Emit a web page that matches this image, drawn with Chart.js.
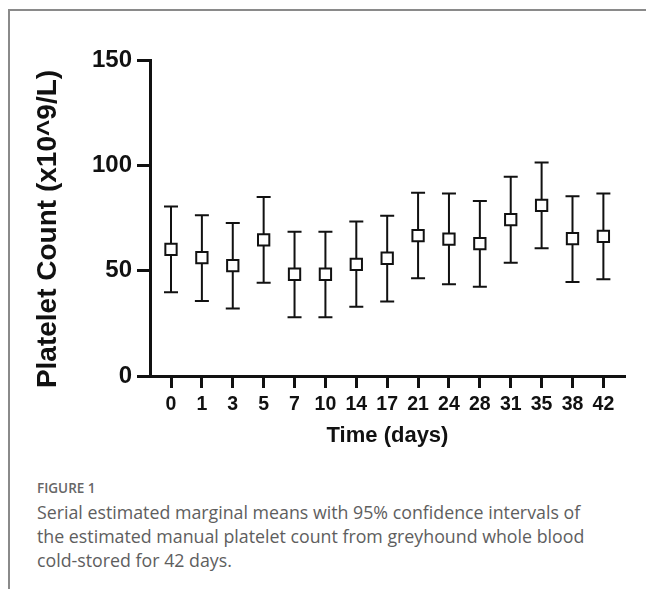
<!DOCTYPE html>
<html>
<head>
<meta charset="utf-8">
<script src="https://cdn.jsdelivr.net/npm/chart.js@4"></script>
<style>
    body { margin: 0; background: #fff; }
    #wrap { position: relative; width: 646px; height: 589px; overflow: hidden; }
    #frame-top { position: absolute; left: 8px; top: 9px; width: 638px; height: 2px; background: #8a8a8a; }
    #frame-left { position: absolute; left: 8px; top: 9px; width: 2px; height: 580px; background: #8a8a8a; }
    #chart-box { position: absolute; left: 0; top: 0; width: 646px; height: 460px; }
    #fig-label { position: absolute; left: 37px; top: 480px; font: 600 13.5px "Open Sans", sans-serif; line-height: 16px; color: #666; }
    #caption { position: absolute; left: 37px; top: 500px; width: 605px; font: 400 17.8px "Open Sans", sans-serif; line-height: 24px; color: #5e5e5e; white-space: nowrap; }
</style>
</head>
<body>
<div id="wrap">
    <div id="frame-top"></div>
    <div id="frame-left"></div>
    <div id="chart-box"><canvas id="platelet-chart" width="646" height="460"></canvas></div>
    <div id="fig-label">FIGURE 1</div>
    <div id="caption">Serial estimated marginal means with 95% confidence intervals of<br>the estimated manual platelet count from greyhound whole blood<br>cold-stored for 42 days.</div>
</div>
<script>
// Storage day labels (x axis categories)
const days = ['0', '1', '3', '5', '7', '10', '14', '17', '21', '24', '28', '31', '35', '38', '42'];
// Estimated marginal means (x10^9/L)
const means = [60.1, 56.2, 52.4, 64.6, 48.3, 48.3, 53.0, 55.9, 66.6, 65.0, 62.8, 74.2, 81.0, 65.2, 66.3];
// 95% CI bounds
const upperCI = [80.4, 76.3, 72.6, 85.0, 68.5, 68.5, 73.3, 76.1, 87.0, 86.6, 83.1, 94.6, 101.3, 85.3, 86.6];
const lowerCI = [39.7, 35.6, 32.0, 44.3, 27.9, 27.9, 32.9, 35.4, 46.4, 43.5, 42.4, 53.8, 60.6, 44.6, 45.9];
const yTicks = [0, 50, 100, 150];

const INK = '#111';
const FONT = '"Liberation Sans", Arial, sans-serif';

// Draw the CI whiskers through the scales, under the square markers
const errorBarPlugin = {
    id: 'errorBars',
    beforeDatasetsDraw(chart) {
        const { ctx, scales: { x, y } } = chart;
        const capHalf = 7;
        ctx.save();
        ctx.strokeStyle = INK;
        ctx.lineWidth = 2;
        days.forEach((d, i) => {
            const px = x.getPixelForValue(i);
            const top = y.getPixelForValue(upperCI[i]);
            const bot = y.getPixelForValue(lowerCI[i]);
            ctx.beginPath();
            ctx.moveTo(px, top);
            ctx.lineTo(px, bot);
            ctx.moveTo(px - capHalf, top);
            ctx.lineTo(px + capHalf, top);
            ctx.moveTo(px - capHalf, bot);
            ctx.lineTo(px + capHalf, bot);
            ctx.stroke();
        });
        ctx.restore();
    }
};

// Rotated y title, placed a little below the axis middle like the original
const yTitlePlugin = {
    id: 'yTitle',
    afterDraw(chart) {
        const { ctx, chartArea } = chart;
        ctx.save();
        ctx.translate(48, (chartArea.top + chartArea.bottom) / 2 + 11);
        ctx.rotate(-Math.PI / 2);
        ctx.font = 'bold 28px ' + FONT;
        ctx.fillStyle = INK;
        ctx.textAlign = 'center';
        ctx.textBaseline = 'middle';
        ctx.fillText('Platelet Count (x10^9/L)', 0, 0);
        ctx.restore();
    }
};

const ctx = document.getElementById('platelet-chart').getContext('2d');
new Chart(ctx, {
    type: 'scatter',
    data: {
        datasets: [{
            data: means.map((m, i) => ({ x: i, y: m })),
            pointStyle: 'rect',
            pointRadius: 8,
            pointHoverRadius: 8,
            pointBorderWidth: 2,
            pointBorderColor: INK,
            pointBackgroundColor: '#fff'
        }]
    },
    options: {
        responsive: false,
        animation: false,
        events: [],
        layout: { padding: { top: 60, right: 21, bottom: 0, left: 0 } },
        plugins: { legend: { display: false }, tooltip: { enabled: false } },
        scales: {
            x: {
                type: 'linear',
                min: -0.68,
                max: 14.7,
                afterBuildTicks: scale => { scale.ticks = days.map((d, i) => ({ value: i })); },
                afterFit: scale => { scale.height = 84; },
                ticks: {
                    autoSkip: false,
                    maxRotation: 0,
                    padding: 5,
                    color: INK,
                    font: { family: FONT, size: 19.5, weight: 'bold' },
                    callback: v => days[v]
                },
                grid: { drawOnChartArea: false, drawTicks: true, tickLength: 12, tickWidth: 3, tickColor: INK },
                border: { display: true, width: 3, color: INK },
                title: {
                    display: true,
                    text: 'Time (days)',
                    color: INK,
                    padding: { top: 0, bottom: 11 },
                    font: { family: FONT, size: 22, weight: 'bold' }
                }
            },
            y: {
                min: 0,
                max: 150,
                afterBuildTicks: scale => { scale.ticks = yTicks.map(v => ({ value: v })); },
                afterFit: scale => { scale.width = 150; },
                ticks: {
                    padding: 5,
                    color: INK,
                    font: { family: FONT, size: 24, weight: 'bold' }
                },
                grid: { drawOnChartArea: false, drawTicks: true, tickLength: 13, tickWidth: 3, tickColor: INK },
                border: { display: true, width: 3, color: INK }
            }
        }
    },
    plugins: [errorBarPlugin, yTitlePlugin]
});
</script>
</body>
</html>
